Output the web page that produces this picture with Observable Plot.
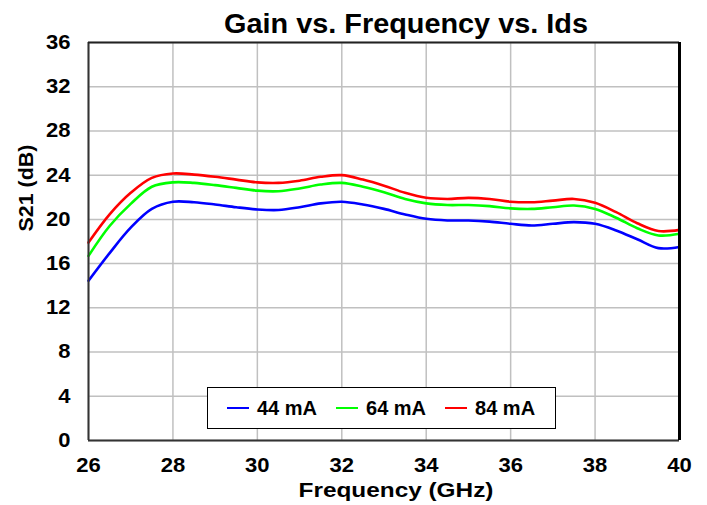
<!DOCTYPE html>
<html>
<head>
<meta charset="utf-8">
<script src="https://cdn.jsdelivr.net/npm/d3@7"></script>
<script src="https://cdn.jsdelivr.net/npm/@observablehq/plot@0.6"></script>
<style>
  body { margin: 0; background: #fff; font-family: "Liberation Sans", Arial, sans-serif; }
  #chart { position: relative; width: 707px; height: 505px; }
  #legend {
    position: absolute; left: 207px; top: 387px; width: 349px; height: 42px;
    border: 1px solid #000; background: #fff; box-sizing: border-box;
    display: flex; align-items: center; padding-left: 19px;
    font-weight: bold; font-size: 20px; color: #000;
  }
  #legend .item { display: flex; align-items: center; margin-right: 19px; }
  #legend .swatch { width: 22px; height: 0; border-top: 2.5px solid; margin-right: 8px; }
</style>
</head>
<body>
<div id="chart"><div id="legend"></div></div>
<script>
// Frequency sweep (GHz)
const freq = [26, 26.5, 27, 27.5, 28, 28.5, 29, 29.5, 30, 30.5, 31, 31.5, 32, 32.5, 33,
              33.5, 34, 34.5, 35, 35.5, 36, 36.5, 37, 37.5, 38, 38.5, 39, 39.5, 40];

// S21 (dB) for each drain current
const s21_44mA = [14.45, 16.95, 19.25, 20.95, 21.6, 21.55, 21.35, 21.1, 20.9, 20.85, 21.1, 21.45, 21.6, 21.35, 20.95,
                  20.45, 20.05, 19.9, 19.9, 19.8, 19.6, 19.45, 19.6, 19.75, 19.6, 19.0, 18.2, 17.4, 17.5];
const s21_64mA = [16.7, 19.4, 21.4, 22.95, 23.35, 23.3, 23.1, 22.85, 22.6, 22.55, 22.8, 23.15, 23.3, 22.95, 22.45,
                  21.85, 21.45, 21.3, 21.3, 21.2, 21.0, 20.95, 21.1, 21.25, 20.95, 20.15, 19.2, 18.55, 18.7];
const s21_84mA = [17.9, 20.45, 22.4, 23.75, 24.15, 24.05, 23.85, 23.6, 23.35, 23.3, 23.5, 23.85, 24.0, 23.6, 23.05,
                  22.4, 21.95, 21.85, 21.95, 21.85, 21.6, 21.55, 21.7, 21.85, 21.5, 20.65, 19.65, 18.95, 19.05];

const seriesNames = ["44 mA", "64 mA", "84 mA"];
const seriesColors = ["#0000ff", "#00ff00", "#ff0000"];
const seriesValues = [s21_44mA, s21_64mA, s21_84mA];

const xTicks = [26, 28, 30, 32, 34, 36, 38, 40];
const yTicks = [0, 4, 8, 12, 16, 20, 24, 28, 32, 36];

const titleText = "Gain vs. Frequency vs. Ids";
const xLabel = "Frequency (GHz)";
const yLabel = "S21 (dB)";

// Long-format table: one row per (series, frequency)
const rows = seriesNames.flatMap((name, i) =>
  freq.map((f, j) => ({ series: name, freq: f, s21: seriesValues[i][j] }))
);

const font = "'Liberation Sans', Arial, sans-serif";

const chart = Plot.plot({
  width: 707,
  height: 505,
  marginLeft: 88,
  marginRight: 28,
  marginTop: 42,
  marginBottom: 65,
  style: { fontFamily: font, background: "#fff", color: "#000" },
  x: { domain: [26, 40] },
  y: { domain: [0, 36] },
  color: { domain: seriesNames, range: seriesColors },
  marks: [
    Plot.gridX(xTicks, { stroke: "#c0c0c0", strokeOpacity: 1, strokeWidth: 1.5 }),
    Plot.gridY(yTicks, { stroke: "#c0c0c0", strokeOpacity: 1, strokeWidth: 1.5 }),
    Plot.line(rows, {
      x: "freq", y: "s21", z: "series", stroke: "series",
      strokeWidth: 2.6, curve: "catmull-rom"
    }),
    // plot frame
    Plot.ruleX([26], { stroke: "#333", strokeWidth: 2 }),
    Plot.ruleY([0], { stroke: "#333", strokeWidth: 2 }),
    Plot.ruleY([36], { stroke: "#222", strokeWidth: 2 }),
    Plot.ruleX([40], { stroke: "#000", strokeWidth: 3 }),
    Plot.axisX(xTicks, {
      tickSize: 0, tickPadding: 17, fontSize: 20, fontWeight: "bold", label: null
    }),
    Plot.axisY(yTicks, {
      tickSize: 0, tickPadding: 18, fontSize: 20, fontWeight: "bold", label: null
    }),
    Plot.text([titleText], {
      frameAnchor: "top", lineAnchor: "middle", dx: 22, dy: -18,
      fontSize: 28, fontWeight: "bold"
    }),
    Plot.text([xLabel], {
      frameAnchor: "bottom", lineAnchor: "middle", dx: 12, dy: 50,
      fontSize: 21, fontWeight: "bold"
    }),
    Plot.text([yLabel], {
      frameAnchor: "left", lineAnchor: "middle", rotate: -90, dx: -62, dy: -10,
      fontSize: 21, fontWeight: "bold"
    })
  ]
});

const container = document.getElementById("chart");
container.insertBefore(chart, container.firstChild);

// Slightly wider glyphs for the axis text
function widen(t, k) {
  const w = t.getComputedTextLength();
  t.setAttribute("textLength", (w * k).toFixed(1));
  t.setAttribute("lengthAdjust", "spacingAndGlyphs");
}
chart.querySelectorAll('g[aria-label="x-axis tick label"] text, g[aria-label="y-axis tick label"] text')
  .forEach(t => widen(t, 1.1));
const labelStretch = { [titleText]: 1.03, [xLabel]: 1.16, [yLabel]: 1.02 };
chart.querySelectorAll('g[aria-label="text"] text').forEach(t => {
  const k = labelStretch[t.textContent];
  if (k) widen(t, k);
});

// Legend
const legend = document.getElementById("legend");
seriesNames.forEach((name, i) => {
  const item = document.createElement("div");
  item.className = "item";
  const sw = document.createElement("span");
  sw.className = "swatch";
  sw.style.borderTopColor = seriesColors[i];
  const label = document.createElement("span");
  label.textContent = name;
  item.append(sw, label);
  legend.append(item);
});
</script>
</body>
</html>
